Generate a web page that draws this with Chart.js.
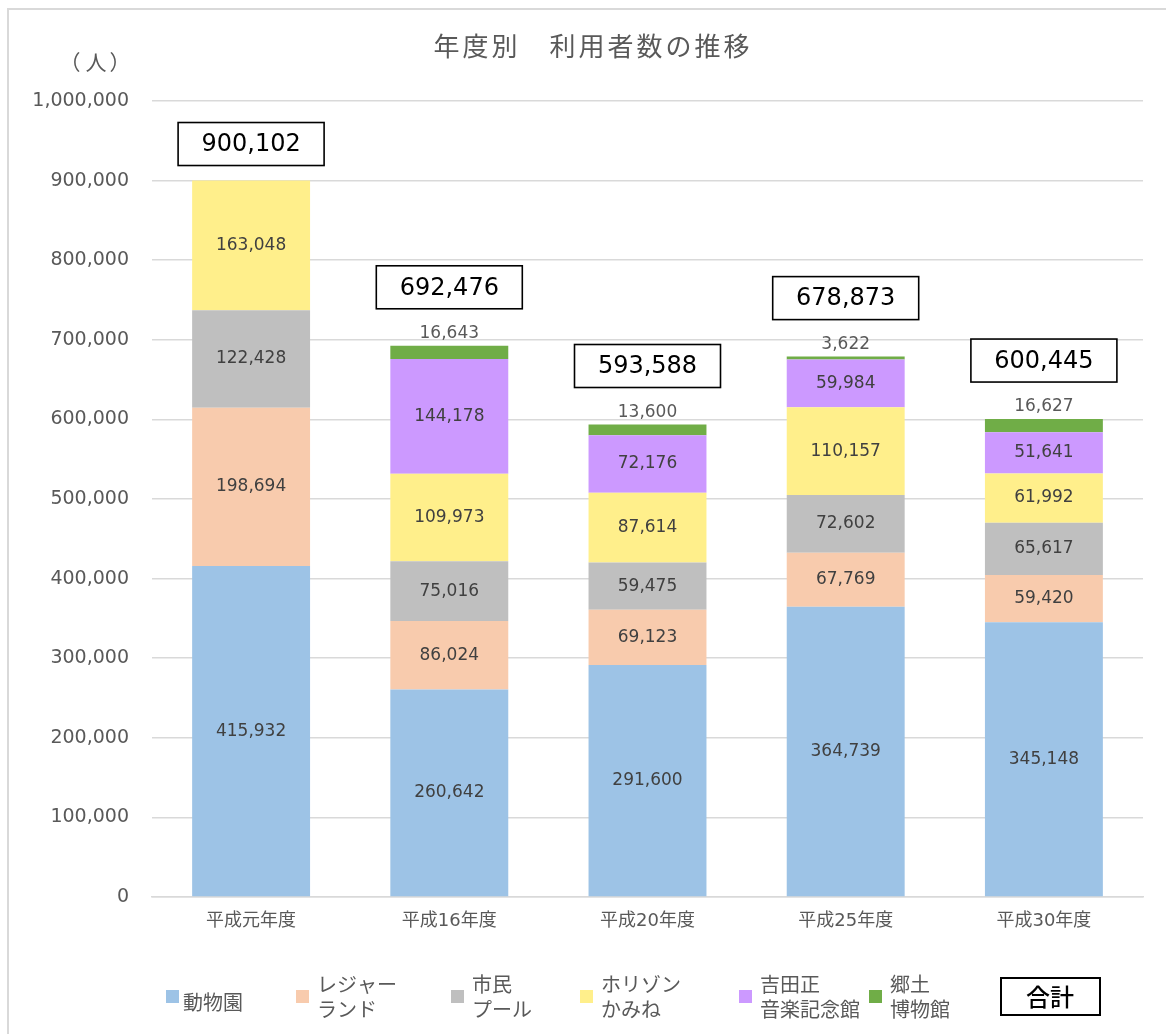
<!DOCTYPE html>
<html lang="ja">
<head>
<meta charset="utf-8">
<title>年度別 利用者数の推移</title>
<script src="https://cdn.jsdelivr.net/npm/chart.js@4/dist/chart.umd.min.js"></script>
<style>
  html, body { margin: 0; padding: 0; background: #fff; }
  canvas { display: block; }
</style>
</head>
<body>
<canvas id="chart" width="1166" height="1034"></canvas>
<script>
// 年度別の利用者数（施設ごと）
const categories = ['平成元年度', '平成16年度', '平成20年度', '平成25年度', '平成30年度'];
const zoo = [415932, 260642, 291600, 364739, 345148];          // 動物園
const leisure = [198694, 86024, 69123, 67769, 59420];          // レジャーランド
const pool = [122428, 75016, 59475, 72602, 65617];             // 市民プール
const horizon = [163048, 109973, 87614, 110157, 61992];        // ホリゾンかみね
const musicHall = [null, 144178, 72176, 59984, 51641];         // 吉田正音楽記念館
const localMuseum = [null, 16643, 13600, 3622, 16627];         // 郷土博物館
const totals = [900102, 692476, 593588, 678873, 600445];       // 合計

const seriesNames = ['動物園', 'レジャー\nランド', '市民\nプール', 'ホリゾン\nかみね', '吉田正\n音楽記念館', '郷土\n博物館'];
const seriesColors = ['#9DC3E6', '#F8CBAD', '#BFBFBF', '#FFEF8B', '#CC99FF', '#70AD47'];
const seriesData = [zoo, leisure, pool, horizon, musicHall, localMuseum];

const FONT = "'DejaVu Sans', 'Noto Sans CJK JP', sans-serif";
const JP_FONT = "'Noto Sans CJK JP', sans-serif";
const fmt = v => v.toLocaleString('en-US');

// 背景・枠線・タイトル・単位
const framePlugin = {
    id: 'frame',
    beforeDraw(chart) {
        const ctx = chart.ctx;
        ctx.save();
        ctx.fillStyle = '#fff';
        ctx.fillRect(0, 0, chart.width, chart.height);
        ctx.strokeStyle = '#d9d9d9';
        ctx.lineWidth = 2;
        ctx.beginPath();
        ctx.moveTo(8, chart.height);
        ctx.lineTo(8, 9);
        ctx.lineTo(chart.width, 9);
        ctx.stroke();

        ctx.fillStyle = '#595959';
        ctx.textAlign = 'center';
        ctx.textBaseline = 'middle';
        ctx.font = '26px ' + JP_FONT;
        ctx.letterSpacing = '3px';
        ctx.fillText('年度別　利用者数の推移', 593, 46);
        ctx.letterSpacing = '0px';
        // 単位（人）
        ctx.font = '21px ' + JP_FONT;
        ctx.fillText('（', 70, 62);
        ctx.fillText('人', 96, 62);
        ctx.fillText('）', 120, 62);
        ctx.restore();
    }
};

// 棒の中の数値と合計の枠
const labelPlugin = {
    id: 'segLabels',
    afterDatasetsDraw(chart) {
        const ctx = chart.ctx;
        ctx.save();
        ctx.textAlign = 'center';
        ctx.textBaseline = 'middle';
        ctx.font = '17px ' + FONT;
        chart.data.datasets.forEach((ds, d) => {
            chart.getDatasetMeta(d).data.forEach((el, i) => {
                const v = ds.data[i];
                if (v == null) return;
                const h = el.base - el.y;
                if (h < 20) {
                    ctx.fillStyle = '#595959';
                    ctx.fillText(fmt(v), el.x, el.y - 12);
                } else {
                    ctx.fillStyle = '#404040';
                    ctx.fillText(fmt(v), el.x, (el.y + el.base) / 2);
                }
            });
        });

        const xs = chart.scales.x, ys = chart.scales.y;
        const lastIdx = chart.data.datasets.length - 1;
        const lastMeta = chart.getDatasetMeta(lastIdx);
        totals.forEach((t, i) => {
            const cx = xs.getPixelForValue(i);
            const top = ys.getPixelForValue(t);
            const lastEl = lastMeta.data[i];
            const outside = chart.data.datasets[lastIdx].data[i] != null && (lastEl.base - lastEl.y) < 20;
            const bottom = top - 15 - (outside ? 22 : 0);
            const w = 146, h = 43;
            ctx.fillStyle = '#fff';
            ctx.fillRect(cx - w / 2, bottom - h, w, h);
            ctx.strokeStyle = '#000';
            ctx.lineWidth = 1.6;
            ctx.strokeRect(cx - w / 2, bottom - h, w, h);
            ctx.fillStyle = '#000';
            ctx.font = '24px ' + FONT;
            ctx.fillText(fmt(t), cx, bottom - h / 2 + 1);
        });
        ctx.restore();
    }
};

// 凡例（2行のラベル）
const legendPlugin = {
    id: 'bottomLegend',
    afterDraw(chart, args, opts) {
        const ctx = chart.ctx;
        ctx.save();
        ctx.textAlign = 'left';
        ctx.textBaseline = 'middle';
        ctx.font = '20px ' + JP_FONT;
        seriesNames.forEach((name, k) => {
            const x = opts.xs[k];
            ctx.fillStyle = seriesColors[k];
            ctx.fillRect(x, 990, 13, 13);
            ctx.fillStyle = '#595959';
            const lines = name.split('\n');
            if (lines.length === 1) {
                ctx.fillText(lines[0], x + 17, 1002);
            } else {
                ctx.fillText(lines[0], x + 21, 984);
                ctx.fillText(lines[1], x + 21, 1009);
            }
        });
        // 合計
        ctx.strokeStyle = '#000';
        ctx.lineWidth = 2;
        ctx.strokeRect(1001, 978, 99, 37);
        ctx.fillStyle = '#000';
        ctx.textAlign = 'center';
        ctx.font = '500 24px ' + JP_FONT;
        ctx.fillText('合計', 1050, 997);
        ctx.restore();
    }
};

const ctx = document.getElementById('chart').getContext('2d');
const myChart = new Chart(ctx, {
    type: 'bar',
    data: {
        labels: categories,
        datasets: seriesData.map((arr, k) => ({
            label: seriesNames[k].replace('\n', ''),
            data: arr,
            backgroundColor: seriesColors[k],
            borderWidth: 0,
            categoryPercentage: 1,
            barPercentage: 0.595
        }))
    },
    options: {
        responsive: false,
        animation: false,
        devicePixelRatio: 1,
        layout: { padding: { top: 101, left: 0, right: 23, bottom: 0 } },
        plugins: {
            legend: { display: false },
            title: { display: false },
            tooltip: { enabled: false },
            bottomLegend: { xs: [166, 296, 451, 580, 739, 869] }
        },
        scales: {
            x: {
                stacked: true,
                grid: { display: false, drawTicks: false },
                border: { display: true, color: '#d9d9d9', width: 1.5 },
                ticks: { color: '#595959', font: { family: FONT, size: 18 }, padding: 14 },
                afterFit(scale) { scale.height = 137; }
            },
            y: {
                stacked: true,
                min: 0,
                max: 1000000,
                grid: { color: '#d9d9d9', lineWidth: 1.5, drawTicks: false },
                border: { display: false },
                ticks: {
                    stepSize: 100000,
                    color: '#595959',
                    font: { family: FONT, size: 19 },
                    padding: 23,
                    callback: v => fmt(v)
                },
                afterFit(scale) { scale.width = 152; }
            }
        }
    },
    plugins: [framePlugin, labelPlugin, legendPlugin]
});
</script>
</body>
</html>
